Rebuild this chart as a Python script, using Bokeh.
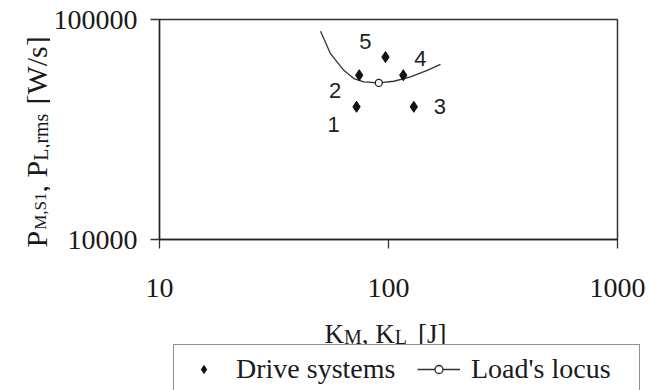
import numpy as np
from bokeh.plotting import figure
from bokeh.layouts import row, column
from bokeh.models import (ColumnDataSource, Range1d, FixedTicker, NumeralTickFormatter,
                          Label, Legend, LegendItem)
from bokeh.core.properties import value
from bokeh.embed import file_html
from bokeh.resources import INLINE

# Drive systems: energy K_M [J] and power rate P_M,S1 [W/s]
drive_ids = ["1", "2", "3", "4", "5"]
drive_k = [72.5, 74.5, 129.0, 116.0, 97.0]
drive_p = [40100, 55800, 40100, 55800, 67500]

# Load's locus: K_L [J] versus P_L,rms [W/s]
locus_k = [50.5, 55.8, 63.8, 70.6, 78.0, 90.7, 105.5, 124.8, 147.6, 168.7]
locus_p = [88500, 69950, 58760, 53920, 52030, 51500, 52400, 54830, 58760, 62580]

# Minimum of the load's locus
load_k = [90.7]
load_p = [51500]

x_ticks = [10, 100, 1000]
y_ticks = [10000, 100000]

# Pixel nudges of the numbers next to each drive point
label_dx = [-23, -24, 26, 17, -20]
label_dy = [18, 15, 0, -17, -16]

SERIF = "Liberation Serif"
INK = "#1a1a1a"

# Mark styles shared by the chart and the legend swatches
DRIVE_STYLE = dict(marker="diamond", size=11, fill_color="#111111", line_color="#111111")
LOCUS_STYLE = dict(line_color="#333333", line_width=1.3)
LOAD_STYLE = dict(marker="circle", size=7, fill_color="white",
                  line_color="#222222", line_width=1.3)

# Page layout (pixels): a strip on the left for the rotated y title, the chart,
# and a strip underneath for the x title and the legend.
PAGE_W, PAGE_H = 649, 390
LEFT_W = 50
MAIN_H = 312
FRAME_L, FRAME_R, FRAME_T, FRAME_B = 159, 617, 19, 239


def blank_panel(width, height):
    f = figure(title=None, width=width, height=height,
               x_range=Range1d(0, 1), y_range=Range1d(0, 1),
               output_backend="svg", toolbar_location=None,
               x_axis_location=None, y_axis_location=None, min_border=0)
    f.outline_line_color = None
    f.xgrid.visible = False
    f.ygrid.visible = False
    f.background_fill_color = "white"
    f.border_fill_color = "white"
    return f


p = figure(title=None, width=PAGE_W - LEFT_W, height=MAIN_H,
           x_axis_type="log", y_axis_type="log",
           x_range=Range1d(10, 1000), y_range=Range1d(10000, 100000),
           output_backend="svg", toolbar_location=None,
           min_border_left=FRAME_L - LEFT_W, min_border_right=PAGE_W - FRAME_R,
           min_border_top=FRAME_T, min_border_bottom=MAIN_H - FRAME_B)

p.background_fill_color = "white"
p.border_fill_color = "white"
p.outline_line_color = "#333333"
p.outline_line_width = 1.5
p.xgrid.visible = False
p.ygrid.visible = False

for ax, ticks in ((p.xaxis, x_ticks), (p.yaxis, y_ticks)):
    ax.ticker = FixedTicker(ticks=ticks, minor_ticks=[])
    ax.formatter = NumeralTickFormatter(format="0")
    ax.axis_line_color = "#222222"
    ax.axis_line_width = 1.3
    ax.major_tick_line_color = "#333333"
    ax.major_tick_line_width = 1.3
    ax.major_tick_in = 0
    ax.major_tick_out = 9
    ax.minor_tick_line_color = None
    ax.major_label_text_font = SERIF
    ax.major_label_text_font_size = "28px"
    ax.major_label_text_color = INK
p.yaxis.major_label_standoff = 13
p.xaxis.major_label_standoff = 30

# Load's locus curve and its minimum
p.line(locus_k, locus_p, **LOCUS_STYLE)
p.scatter(load_k, load_p, **LOAD_STYLE)

# Drive systems (diamonds) with their numbers
src = ColumnDataSource(dict(k=drive_k, p=drive_p, ids=drive_ids,
                            dx=label_dx, dy=label_dy))
p.scatter("k", "p", source=src, **DRIVE_STYLE)
p.text("k", "p", text="ids", source=src, x_offset="dx", y_offset="dy",
       text_font=value("Liberation Sans"), text_font_size="22px",
       text_color="#222222", text_align="center", text_baseline="middle")

left = blank_panel(LEFT_W, PAGE_H)                     # page origin (0, 0)
bottom = blank_panel(PAGE_W - LEFT_W, PAGE_H - MAIN_H)  # bottom edge on the page bottom

# Times metrics (em widths) used to chain title pieces
W = {"K": .722, "M": .889, "P": .556, "L": .611, "S": .556, "1": .5, ",": .25,
     " ": .25, "r": .333, "m": .778, "s": .389, "[": .333, "]": .333, "J": .389,
     "W": .944, "/": .278}


def width(text, size):
    return sum(W[c] for c in text) * size


def piece(fig, dx, up, text, size, angle=0.0, anchor_y=1):
    """Text piece dx px right of the panel's left edge and `up` px above the
    anchor edge (top edge for anchor_y=1, bottom edge for anchor_y=0)."""
    fig.add_layout(Label(x=0, y=anchor_y, x_offset=dx, y_offset=up, text=text, angle=angle,
                         text_font=SERIF, text_font_size=f"{size}px", text_color=INK,
                         text_align="left", text_baseline="alphabetic"))


# x title: K_M, K_L [J]   (text, font size, baseline shift, gap before)
x_title = [("K", 27, 0, 0), ("M", 20, 3, 0), (", K", 27, 0, 0), ("L", 20, 3, 0),
           ("[J]", 27, 0, 11)]
x = 324
for text, size, shift, gap in x_title:
    x += gap
    piece(bottom, x - LEFT_W, PAGE_H - (333 + shift), text, size, anchor_y=0)
    x += width(text, size)

# y title: P_M,S1, P_L,rms [W/s], reading upwards
y_title = [("P", 30, 0, 0), ("M,S1", 17, 4, 1), (", P", 30, 0, 0), ("L,rms", 20, 4, 0),
           ("[W/s]", 30, 0, 9)]
y = 247
for text, size, shift, gap in y_title:
    y -= gap
    piece(left, 36 + shift, -y, text, size, angle=np.pi / 2)
    y -= width(text, size)

# Legend swatches: the same series drawn in the strip's (0..1) frame, so only
# their legend samples show.
leg_pts = bottom.scatter(drive_k, drive_p, **DRIVE_STYLE)
leg_line = bottom.line(locus_k, locus_p, **LOCUS_STYLE)
leg_circ = bottom.scatter(load_k, load_p, **LOAD_STYLE)

legend = Legend(items=[LegendItem(label="Drive systems", renderers=[leg_pts]),
                       LegendItem(label="Load's locus", renderers=[leg_line, leg_circ])],
                orientation="horizontal", location=(173 - LEFT_W, -4),
                label_text_font=SERIF, label_text_font_size="28px",
                label_text_color=INK, glyph_width=43, glyph_height=20,
                label_width=160, label_standoff=11, spacing=21, padding=8, margin=0,
                border_line_color="#222222", border_line_width=1.5,
                background_fill_color="white", background_fill_alpha=1.0)
bottom.add_layout(legend)

layout = row(left, column(p, row(bottom, spacing=0), spacing=0), spacing=0)

open("out.html", "w").write(file_html(layout, INLINE))
